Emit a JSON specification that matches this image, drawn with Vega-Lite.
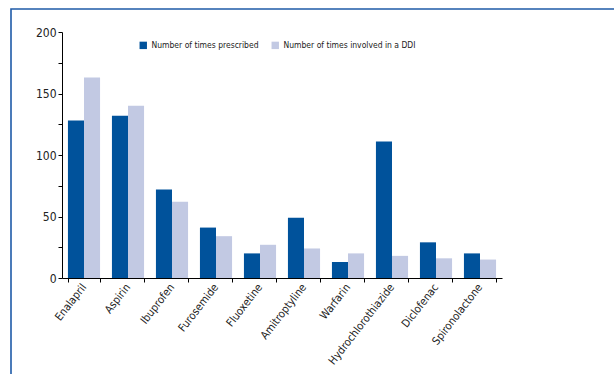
{
  "$schema": "https://vega.github.io/schema/vega-lite/v6.json",
  "width": 620,
  "height": 380,
  "autosize": "none",
  "padding": {"left": 11, "top": 9, "right": 0, "bottom": 0},
  "config": {
    "view": {"stroke": "#1F5BA8", "strokeWidth": 1.6},
    "font": "DejaVu Sans Condensed, Liberation Sans, sans-serif"
  },
  "data": {"values": [
    {"drug": "Enalapril", "series": "Number of times prescribed", "value": 128},
    {"drug": "Enalapril", "series": "Number of times involved in a DDI", "value": 163},
    {"drug": "Aspirin", "series": "Number of times prescribed", "value": 132},
    {"drug": "Aspirin", "series": "Number of times involved in a DDI", "value": 140},
    {"drug": "Ibuprofen", "series": "Number of times prescribed", "value": 72},
    {"drug": "Ibuprofen", "series": "Number of times involved in a DDI", "value": 62},
    {"drug": "Furosemide", "series": "Number of times prescribed", "value": 41},
    {"drug": "Furosemide", "series": "Number of times involved in a DDI", "value": 34},
    {"drug": "Fluoxetine", "series": "Number of times prescribed", "value": 20},
    {"drug": "Fluoxetine", "series": "Number of times involved in a DDI", "value": 27},
    {"drug": "Amitroptyline", "series": "Number of times prescribed", "value": 49},
    {"drug": "Amitroptyline", "series": "Number of times involved in a DDI", "value": 24},
    {"drug": "Warfarin", "series": "Number of times prescribed", "value": 13},
    {"drug": "Warfarin", "series": "Number of times involved in a DDI", "value": 20},
    {"drug": "Hydrochlorothiazide", "series": "Number of times prescribed", "value": 111},
    {"drug": "Hydrochlorothiazide", "series": "Number of times involved in a DDI", "value": 18},
    {"drug": "Diclofenac", "series": "Number of times prescribed", "value": 29},
    {"drug": "Diclofenac", "series": "Number of times involved in a DDI", "value": 16},
    {"drug": "Spironolactone", "series": "Number of times prescribed", "value": 20},
    {"drug": "Spironolactone", "series": "Number of times involved in a DDI", "value": 15}
  ]},
  "mark": {"type": "bar"},
  "encoding": {
    "x": {
      "field": "drug", "type": "nominal", "sort": null,
      "scale": {"range": [51, 491], "paddingInner": 0.27, "paddingOuter": 0.135},
      "axis": {
        "title": null, "orient": "bottom", "offset": -111,
        "domainColor": "#000", "domainWidth": 1, "tickColor": "#000", "tickSize": 4,
        "tickBand": "extent", "labelAngle": -52, "labelAlign": "right", "labelBaseline": "middle",
        "labelFontSize": 11, "labelColor": "#222", "labelPadding": 3, "labelDx": 4
      }
    },
    "xOffset": {"field": "series", "type": "nominal", "sort": ["Number of times prescribed", "Number of times involved in a DDI"]},
    "y": {
      "field": "value", "type": "quantitative",
      "scale": {"domain": [0, 200], "range": [269, 23], "nice": false},
      "axis": {
        "title": null, "orient": "left", "offset": -51, "grid": false,
        "values": [0, 25, 50, 75, 100, 125, 150, 175, 200],
        "labelExpr": "datum.value % 50 === 0 ? datum.label : ''",
        "domainColor": "#000", "tickColor": "#000", "tickSize": 4,
        "labelFontSize": 12, "labelColor": "#222", "labelPadding": 2
      }
    },
    "color": {
      "field": "series", "type": "nominal",
      "sort": ["Number of times prescribed", "Number of times involved in a DDI"],
      "scale": {"range": ["#00529B", "#C2C9E3"]},
      "legend": {
        "title": null, "orient": "none", "legendX": 128, "legendY": 32, "direction": "horizontal",
        "symbolType": "square", "symbolSize": 55, "symbolStrokeWidth": 0, "symbolOpacity": 1,
        "labelFontSize": 8.5, "labelColor": "#222", "columnPadding": 12, "labelOffset": 4,
        "labelLimit": 300
      }
    }
  }
}
